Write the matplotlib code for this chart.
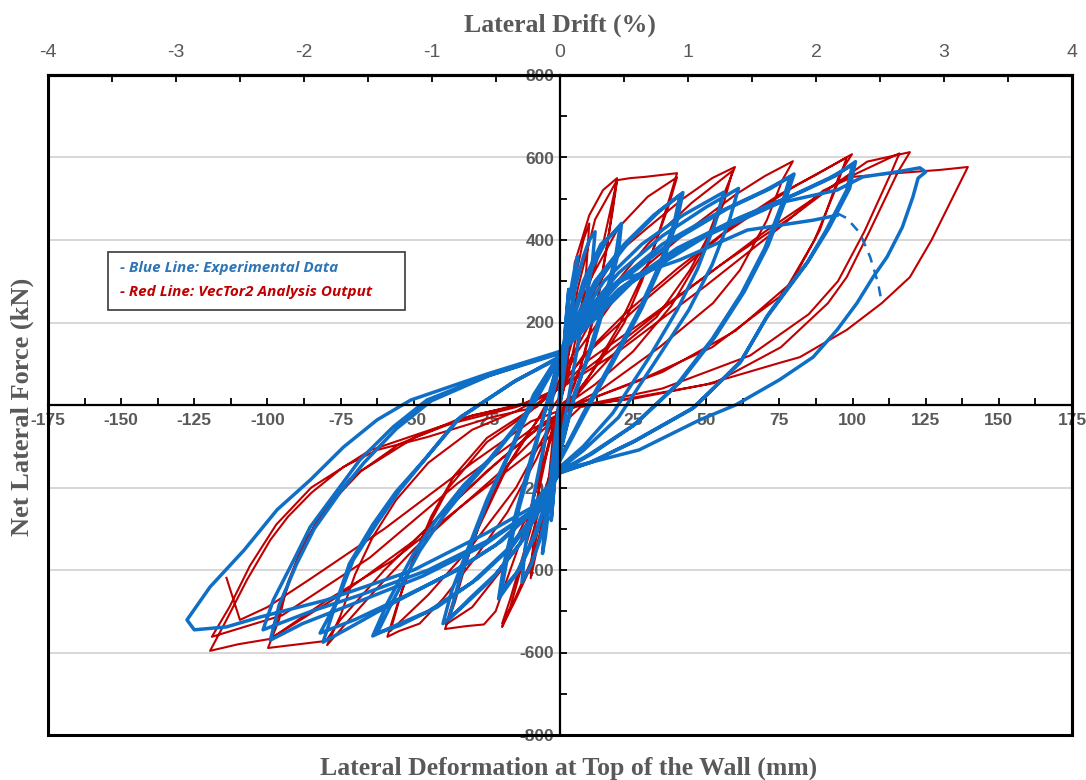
import numpy as np
import matplotlib
matplotlib.use("Agg")
import matplotlib.pyplot as plt
from matplotlib.patches import Rectangle
from matplotlib import font_manager

plt.rcParams["axes.unicode_minus"] = False

# ---------------- data ----------------
x_ticks = list(range(-175, 176, 25))
y_ticks = list(range(-800, 801, 200))
drift_ticks = list(range(-4, 5))
MM_PER_PCT = 43.75

# VecTor2 analysis (red) load path: (deformation mm, force kN)
red_path = [
    (0, 0), (2, 100), (4, 230), (5, 290),
    (4, 200), (2, 60), (0, 0), (-2, -100), (-4, -220), (-5, -280),
    (-4, -190), (-2, -50), (0, 15),
    (2, 130), (5, 300), (8, 400), (10, 440),
    (9, 330), (6, 150), (3, 20), (0, -20), (-3, -150), (-7, -320), (-10, -420),
    (-9, -320), (-6, -130), (-3, -10), (0, 20),
    (2, 120), (4, 230), (5, 344), (10, 460), (14.7, 521), (19.5, 550),
    (18, 480), (16, 380), (13, 257), (9, 140), (5, 50), (2, 0),
    (-2.4, -150), (-5.8, -286), (-10, -393), (-14.7, -465), (-19.8, -538),
    (-17, -490), (-13.7, -407), (-10, -327), (-6.8, -247), (-3.4, -165), (-1.5, -60), (0, 10),
    (2, 100), (6, 280), (12, 450), (19.5, 545),
    (18, 470), (13, 260), (7, 90), (2, 5),
    (-4, -200), (-10, -380), (-16, -480), (-19.8, -530),
    (-17, -470), (-10, -300), (-4, -100), (0, 10),
    (3, 80), (8, 250), (15, 400), (19.5, 545), (24, 550), (29, 553), (35, 558), (40, 562),
    (37.6, 505), (33, 400), (28, 300), (22, 200), (14, 110), (6, 30), (0, 0),
    (-2, -40), (-6, -150), (-12, -300), (-18, -420), (-22, -500), (-26, -532), (-32, -536), (-39.3, -543),
    (-36, -480), (-32, -380), (-27, -280), (-20, -170), (-12, -80), (-5, -10), (-2, 25),
    (0, 60), (3, 150), (10, 300), (20, 430), (30, 505), (40, 552),
    (37, 480), (30, 340), (20, 190), (10, 70), (3, 5),
    (-3, -80), (-10, -250), (-20, -400), (-30, -490), (-39, -532),
    (-35, -440), (-28, -300), (-18, -150), (-8, -40), (-3, 25),
    (0, 50), (4, 150), (12, 280), (20, 370), (30, 430), (42, 500), (52, 550), (59.8, 577),
    (57, 528), (50, 400), (44.4, 327), (33, 213), (20.5, 140), (10, 60), (3, 0),
    (-3, -50), (-8, -130), (-18, -260), (-30, -380), (-40, -470), (-48, -530), (-55, -548), (-59, -562),
    (-55, -470), (-50, -370), (-44, -270), (-36, -170), (-25, -80), (-12, -20), (-4, 25),
    (-1, 50), (5, 130), (15, 260), (30, 390), (45, 490), (59, 568),
    (56, 490), (48, 360), (38, 240), (25, 130), (12, 50), (3, 5),
    (-5, -70), (-15, -200), (-30, -340), (-45, -460), (-58, -548),
    (-54, -450), (-47, -320), (-38, -200), (-25, -90), (-10, -15), (-3, 28),
    (0, 50), (6, 130), (18, 250), (30, 340), (45, 430), (60, 510), (70, 555), (79.6, 591),
    (76, 545), (70.7, 448), (61.5, 327), (52.3, 247), (34, 140), (13.7, 36), (3, -5),
    (-5.8, -60), (-20, -160), (-34, -247), (-50, -350), (-62, -440), (-72, -520), (-79.6, -582),
    (-75, -510), (-70, -410), (-64, -320), (-56, -230), (-45, -140), (-30, -60), (-15, -15), (-4, 28),
    (0, 40), (8, 120), (22, 220), (40, 330), (60, 440), (75, 510), (88, 560), (99.8, 608),
    (95.7, 562), (88.8, 424), (79.6, 303), (75, 262), (52, 140), (29.7, 68), (6.8, 5),
    (-5, -40), (-20, -130), (-40, -260), (-60, -400), (-75, -520), (-80, -572), (-99.8, -589),
    (-96, -520), (-93, -430), (-88, -340), (-80, -250), (-68, -160), (-50, -80), (-30, -25), (-10, 5), (-4, 29),
    (0, 50), (10, 130), (30, 260), (55, 410), (80, 530), (98, 600),
    (94, 520), (87, 400), (78, 290), (60, 180), (35, 80), (8, 8),
    (-8, -60), (-25, -160), (-50, -330), (-75, -460), (-99, -567),
    (-95, -480), (-90, -380), (-83, -280), (-72, -180), (-55, -95), (-35, -35), (-12, 5), (-4, 29),
    (0, 40), (10, 110), (30, 210), (55, 340), (80, 460), (95, 540), (105, 590), (119.6, 613),
    (115.5, 565), (106, 424), (98, 310), (91.6, 247), (75.5, 140), (52.6, 53), (7, -5),
    (-5.8, -92), (-34, -247), (-57, -376), (-79.6, -473), (-99, -567), (-110, -580), (-119.6, -596),
    (-114, -521), (-107, -424), (-99, -327), (-93, -271), (-85, -213), (-74, -150), (-62.5, -109),
    (-45.5, -78), (-23, -29), (-8, -5), (-3, 30),
    (0, 40), (15, 120), (40, 260), (70, 420), (95, 540), (116, 610),
    (113, 560), (104, 420), (95, 300), (85, 220), (65, 120), (35, 40), (5, -5),
    (-10, -60), (-35, -190), (-65, -370), (-95, -510), (-119, -562),
    (-113, -490), (-106, -390), (-97, -290), (-85, -200), (-65, -110), (-40, -50), (-15, -5), (-3, 30),
    (0, 40), (20, 130), (50, 290), (75, 430), (90, 520), (100, 553), (115, 562), (130, 570), (139.4, 577),
    (127, 400), (119.6, 310), (110, 247), (98, 182), (82, 116), (75, 102), (50, 50), (25, 15), (5, 0),
    (-10, -40), (-30, -140), (-60, -300), (-85, -420), (-100, -490), (-109.4, -521), (-114, -419),
]

# Experimental data (blue) load path
blue_path = [
    (0, 0), (1, 100), (2, 200), (3, 280),
    (2, 200), (0.5, 60), (-0.5, -50), (-1.5, -150), (-3, -280),
    (-2, -200), (0, 0),
    (1.5, 150), (3, 250), (5, 330), (6, 360),
    (5, 280), (3, 170), (1, 60), (-1, -60), (-3, -200), (-5, -320), (-6, -360),
    (-5, -280), (-3, -160), (-1, -40), (0, 40),
    (2, 150), (5, 280), (8, 360), (10, 400), (12, 420),
    (11, 340), (8, 220), (5, 100), (2, -20), (0, -100), (-3, -220), (-7, -330), (-10, -390), (-13, -430),
    (-12, -350), (-9, -220), (-5, -80), (-2, 40), (0, 100),
    (3, 180), (8, 300), (14, 390), (20.5, 431),
    (19, 360), (15, 250), (10, 130), (5, 20), (0, -110),
    (-3, -200), (-8, -310), (-14, -400), (-20, -450),
    (-18, -370), (-14, -250), (-9, -120), (-4, 20), (0, 120),
    (4, 200), (10, 320), (16, 400), (21, 440),
    (20, 370), (16, 260), (11, 140), (5, 30), (0, -120),
    (-4, -220), (-9, -320), (-15, -410), (-21, -470),
    (-19, -380), (-15, -260), (-10, -130), (-4, 10), (0, 125),
    (4, 190), (12, 300), (22, 390), (32, 460), (41, 509),
    (39, 440), (34, 340), (27, 230), (18, 110), (8, -20), (0, -130),
    (-5, -230), (-13, -330), (-22, -410), (-31, -470), (-38, -521),
    (-35, -440), (-30, -330), (-24, -220), (-16, -100), (-8, 30), (0, 125),
    (5, 200), (14, 310), (24, 400), (34, 470), (42, 515),
    (40, 445), (35, 345), (28, 235), (19, 115), (9, -15), (0, -135),
    (-6, -240), (-14, -340), (-23, -420), (-32, -480), (-40, -530),
    (-37, -450), (-31, -340), (-25, -230), (-17, -110), (-9, 25), (0, 125),
    (5, 190), (15, 300), (28, 390), (42, 460), (56, 516),
    (53, 440), (47, 330), (40, 230), (30, 110), (18, -20), (8, -100), (0, -150),
    (-6, -240), (-16, -340), (-28, -420), (-42, -490), (-55, -535), (-62.5, -553),
    (-57, -473), (-47.8, -352), (-40, -271), (-30.8, -189), (-23, -126), (-10, -10), (0, 115),
    (6, 200), (20, 320), (35, 410), (50, 480), (61, 525),
    (58, 450), (52, 340), (44, 230), (33, 110), (20, -30), (8, -110), (0, -155),
    (-7, -250), (-18, -350), (-30, -430), (-45, -500), (-58, -540), (-64, -560),
    (-59, -480), (-50, -360), (-42, -275), (-33, -195), (-24, -130), (-11, -15), (0, 118),
    (5, 180), (18, 290), (35, 390), (55, 470), (70, 520), (78.6, 553),
    (76, 490), (70, 380), (62, 270), (52, 160), (40, 50), (25, -50), (10, -120), (0, -160),
    (-8, -250), (-20, -330), (-35, -400), (-55, -470), (-70, -520), (-82, -553),
    (-76, -473), (-70.7, -376), (-62.5, -286), (-54.7, -206), (-45.5, -126), (-34, -29), (-15, 60), (0, 115),
    (6, 185), (20, 295), (38, 395), (57, 475), (72, 525), (80, 560),
    (77, 495), (71, 385), (63, 275), (53, 165), (41, 55), (26, -45), (11, -118), (0, -162),
    (-9, -255), (-22, -340), (-38, -410), (-57, -480), (-72, -540), (-81, -575),
    (-77, -490), (-72, -385), (-64, -290), (-56, -210), (-46, -130), (-35, -35), (-16, 55), (0, 118),
    (5, 170), (20, 280), (40, 380), (60, 450), (80, 510), (92, 550), (100, 582),
    (98, 521), (91, 424), (84.4, 344), (77.6, 279), (70.7, 213), (61.5, 102), (45, -10), (25, -90),
    (10, -140), (0, -165),
    (-8, -250), (-25, -330), (-45, -400), (-68, -460), (-85, -500), (-101.5, -545),
    (-98, -473), (-91, -376), (-85.4, -296), (-76, -206), (-68.4, -133), (-57, -53), (-45.5, 12),
    (-25, 70), (0, 125),
    (6, 175), (22, 285), (42, 385), (62, 455), (82, 515), (94, 555), (101, 590),
    (99, 525), (92, 430), (85, 350), (78, 285), (71, 218), (62, 108), (46, -5), (26, -85), (11, -138), (0, -163),
    (-9, -255), (-26, -340), (-47, -415), (-70, -480), (-88, -530), (-99, -570),
    (-96, -485), (-90, -385), (-84, -300), (-75, -210), (-67, -140), (-56, -58), (-44, 10), (-24, 72), (0, 128),
    (5, 160), (25, 300), (50, 410), (75, 490), (94.7, 521), (103.5, 553), (115, 565), (123, 575), (125, 565),
    (122.4, 550), (120.6, 504), (117, 431), (111.8, 359), (107, 310), (101.5, 247), (94.7, 182),
    (86.5, 116), (75, 61), (60, 0), (47.8, -36), (27, -109), (0, -158),
    (-10, -250), (-25, -310), (-50, -400), (-80, -473), (-102.5, -514), (-114, -538), (-125, -545), (-127.5, -521),
    (-119.6, -441), (-108, -352), (-96.7, -254), (-85.4, -182), (-74, -102), (-62.5, -36), (-51, 12),
    (-25, 75), (0, 130),
    (5, 200), (20, 300), (41, 352), (64, 424), (86.5, 448), (94.7, 460),
]

# Blue dashed (strength drop) segment
blue_dash_path = [(94.7, 465), (98, 453), (102.5, 417), (106, 359), (108.7, 296), (110, 247)]

legend_lines = ["- Blue Line: Experimental Data", "- Red Line: VecTor2 Analysis Output"]

# ---------------- styling ----------------
GRAY = "#595959"
BLUE = "#0F6FC6"
RED = "#C00000"

names = {f.name for f in font_manager.fontManager.ttflist}
narrow = "Liberation Sans Narrow" if "Liberation Sans Narrow" in names else "Liberation Sans"

fig = plt.figure(figsize=(10.86, 7.80), dpi=100)
ax = fig.add_axes([48 / 1086, 1 - 735 / 780, 1024 / 1086, 660 / 780])
ax.set_xlim(-175, 175)
ax.set_ylim(-800, 800)

# grid
for yv in y_ticks:
    if yv not in (0, 800, -800):
        ax.axhline(yv, color="#D4D4D4", lw=1.3, zorder=0)

red = np.array(red_path)
blue = np.array(blue_path)
bd = np.array(blue_dash_path)
ax.plot(red[:, 0], red[:, 1], color=RED, lw=1.5, zorder=2, solid_joinstyle="round")
ax.plot(blue[:, 0], blue[:, 1], color=BLUE, lw=2.5, zorder=3, solid_joinstyle="round")
ax.plot(bd[:, 0], bd[:, 1], color=BLUE, lw=1.8, ls=(0, (4, 3)), zorder=3)

# spines through origin
ax.spines["left"].set_position(("data", 0))
ax.spines["bottom"].set_position(("data", 0))
for s in ("left", "bottom"):
    ax.spines[s].set_linewidth(1.6)
    ax.spines[s].set_zorder(4)
for s in ("top", "right"):
    ax.spines[s].set_linewidth(2.2)
ax.add_patch(Rectangle((0, 0), 1, 1, transform=ax.transAxes, fill=False,
                       lw=2.2, ec="black", zorder=5, clip_on=False))

ax.set_xticks(x_ticks)
ax.set_xticks(np.arange(-162.5, 175, 25), minor=True)
ax.set_yticks(y_ticks)
ax.set_yticks(np.arange(-700, 800, 200), minor=True)
ax.tick_params(axis="x", which="both", direction="in", length=5, width=1.3, pad=6,
               labelsize=12.5, labelcolor=GRAY)
ax.tick_params(axis="y", which="both", direction="in", length=5, width=1.3, pad=4,
               labelsize=12.5, labelcolor=GRAY)
for lab in ax.get_xticklabels() + ax.get_yticklabels():
    lab.set_fontfamily("Liberation Sans")
    lab.set_fontweight("bold")

# top drift axis
sec = ax.secondary_xaxis("top", functions=(lambda v: v / MM_PER_PCT, lambda d: d * MM_PER_PCT))
sec.set_xticks(drift_ticks)
sec.set_xticks(np.arange(-3.5, 4, 1), minor=True)
sec.tick_params(which="both", direction="in", length=5, width=1.3, pad=10,
                labelsize=14, labelcolor=GRAY)
sec.spines["top"].set_linewidth(2.2)
for lab in sec.get_xticklabels():
    lab.set_fontfamily(narrow)
sec.set_xlabel("Lateral Drift (%)", fontfamily="Liberation Serif", fontweight="bold",
               fontsize=18.5, color=GRAY, labelpad=9)

fig.text(569 / 1086, 1 - 768 / 780, "Lateral Deformation at Top of the Wall (mm)",
         ha="center", va="center", fontfamily="Liberation Serif", fontweight="bold",
         fontsize=18.5, color=GRAY)
fig.text(22 / 1086, 1 - 407 / 780, "Net Lateral Force (kN)", rotation=90,
         ha="center", va="center", fontfamily="Liberation Serif", fontweight="bold",
         fontsize=19, color=GRAY)

# legend box
ax.add_patch(Rectangle((60 / 1024, 425 / 660), 297 / 1024, 58 / 660, transform=ax.transAxes,
                       fc="white", ec="#3A3A3A", lw=1.2, zorder=6))
ax.text(72 / 1024, 467 / 660, legend_lines[0], transform=ax.transAxes, color="#2E75B6",
        fontfamily="Open Sans", style="italic", fontweight="bold", fontsize=11,
        va="center", ha="left", zorder=7)
ax.text(72 / 1024, 443 / 660, legend_lines[1], transform=ax.transAxes, color=RED,
        fontfamily="Open Sans", style="italic", fontweight="bold", fontsize=11,
        va="center", ha="left", zorder=7)

fig.savefig("out.png", dpi=100)
